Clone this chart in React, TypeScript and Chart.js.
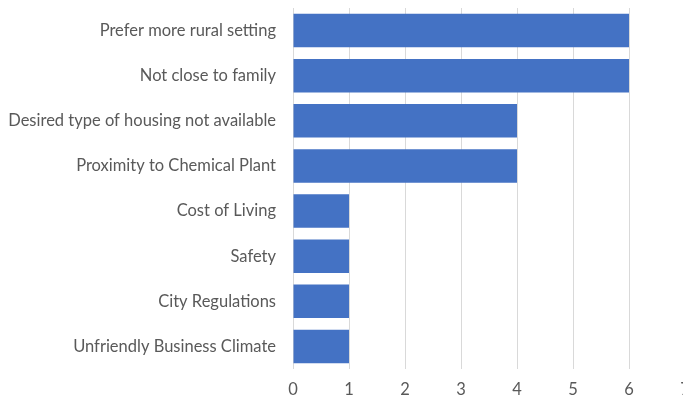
import React, { useEffect, useRef } from "react";
import { Chart, registerables } from "chart.js";

Chart.register(...registerables);

const categories = [
  "Prefer more rural setting",
  "Not close to family",
  "Desired type of housing not available",
  "Proximity to Chemical Plant",
  "Cost of Living",
  "Safety",
  "City Regulations",
  "Unfriendly Business Climate",
];
const counts = [6, 6, 4, 4, 1, 1, 1, 1];
const xMin = 0;
const xMax = 7;

const FONT = "Lato, 'Open Sans', sans-serif";
const FONT_SIZE = 16.5;

export default function App() {
  const ref = useRef<HTMLCanvasElement | null>(null);
  useEffect(() => {
    if (!ref.current) return;
    const chart = new Chart(ref.current, {
      type: "bar",
      data: {
        labels: categories,
        datasets: [
          {
            data: counts,
            backgroundColor: "#4472C4",
            borderWidth: 0,
            barPercentage: 0.74,
            categoryPercentage: 1,
          },
        ],
      },
      options: {
        indexAxis: "y",
        animation: false,
        responsive: false,
        maintainAspectRatio: false,
        layout: { autoPadding: false, padding: { top: 8, right: 15, left: 0, bottom: 0 } },
        plugins: { legend: { display: false }, tooltip: { enabled: false } },
        scales: {
          x: {
            min: xMin,
            max: xMax,
            ticks: {
              stepSize: 1,
              color: "#595959",
              font: { family: FONT, size: FONT_SIZE },
              padding: 11,
            },
            grid: { color: "#d9d9d9", drawTicks: false },
            border: { display: false },
            afterFit: (s: any) => {
              s.height = 31;
              s.paddingLeft = 0;
              s.paddingRight = 0;
            },
          },
          y: {
            ticks: {
              color: "#595959",
              font: { family: FONT, size: FONT_SIZE },
              padding: 17,
              autoSkip: false,
            },
            grid: { display: false, drawTicks: false },
            border: { display: false },
            afterFit: (s: any) => {
              s.width = 293;
              s.paddingTop = 0;
              s.paddingBottom = 0;
            },
          },
        },
      },
    });
    return () => chart.destroy();
  }, []);
  return (
    <div
      style={{
        position: "fixed",
        left: 0,
        top: 0,
        width: 683,
        height: 400,
        overflow: "hidden",
        background: "#fff",
      }}
    >
      <canvas ref={ref} width={700} height={400} style={{ display: "block" }} />
    </div>
  );
}
